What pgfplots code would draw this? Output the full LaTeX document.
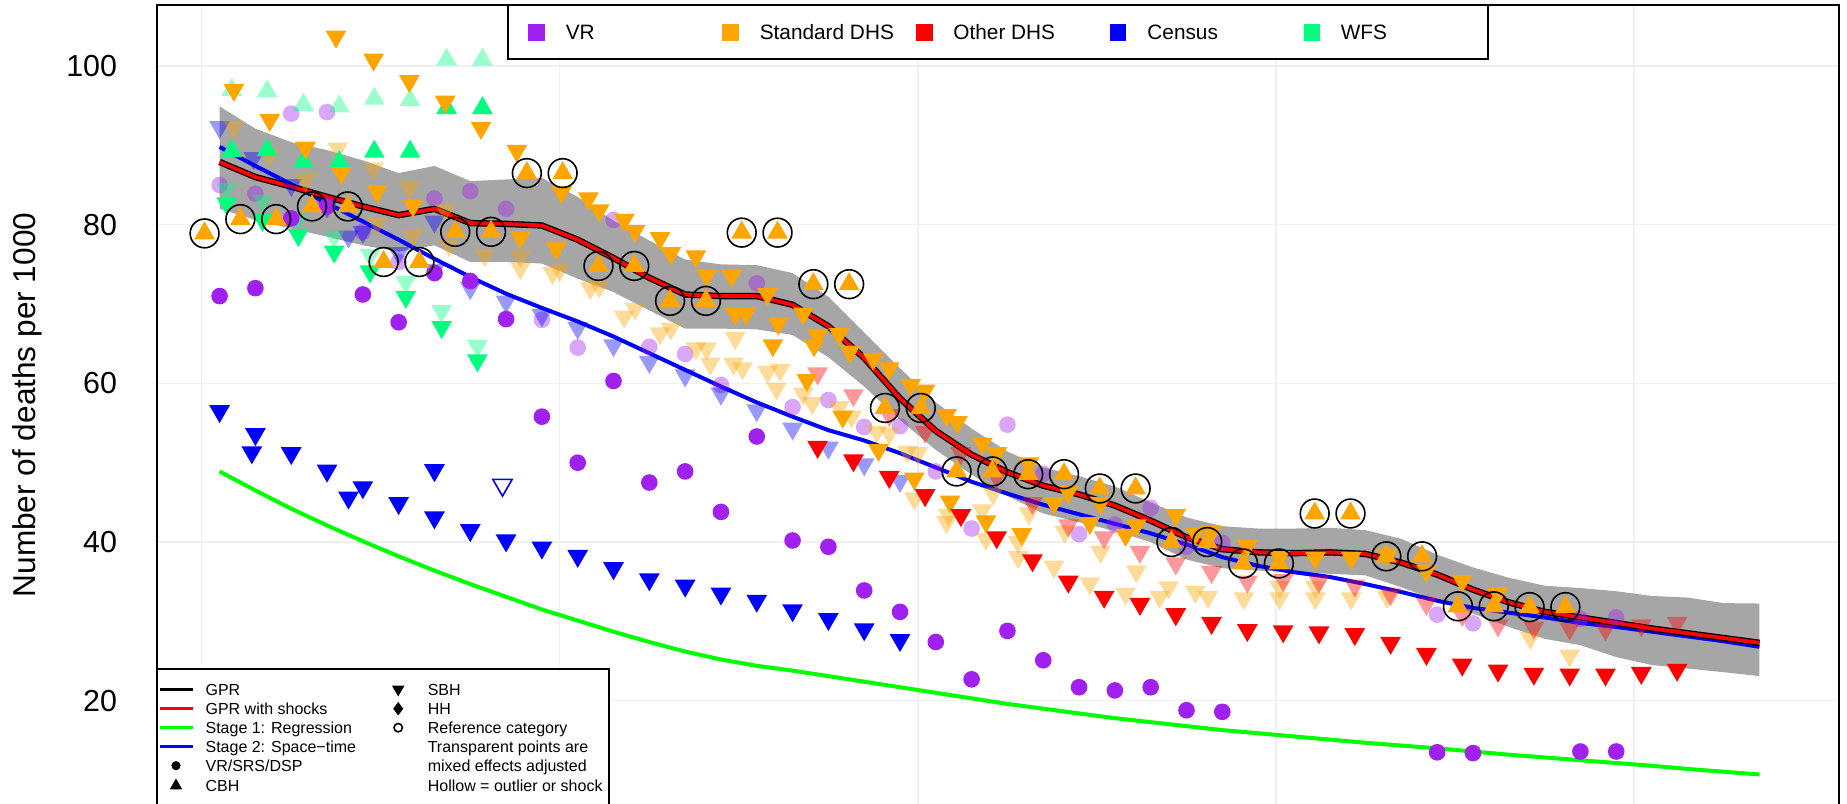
\documentclass[border=0pt]{standalone}
\usepackage{fontspec}
\setmainfont{Liberation Sans}
\usepackage{pgfplots}
\usepackage{pgfplotstable}
\pgfplotsset{compat=1.18}
\definecolor{vrpurple}{HTML}{A020F0}
\definecolor{dhsorange}{HTML}{FFA500}
\definecolor{otherred}{HTML}{FF0000}
\definecolor{censusblue}{HTML}{0000FF}
\definecolor{wfsgreen}{HTML}{00FF7F}
\definecolor{bandgrey}{HTML}{A6A6A6}
\definecolor{stageone}{HTML}{00FF00}

\pgfplotstableread{
year gpr st2 st1
1970.5 87.9 89.8 48.9
1971.5 86.0 87.4 46.5
1972.5 84.8 85.1 44.2
1973.5 83.5 82.7 42.1
1974.5 82.3 80.4 40.1
1975.5 81.2 78.1 38.2
1976.5 82.0 75.7 36.4
1977.5 80.2 73.4 34.7
1978.5 80.1 71.3 33.1
1979.5 79.9 69.5 31.5
1980.5 78.1 67.8 30.1
1981.5 75.8 65.9 28.7
1982.5 73.3 63.8 27.4
1983.5 71.2 61.7 26.2
1984.5 71.0 59.6 25.2
1985.5 71.0 57.6 24.4
1986.5 69.9 55.8 23.8
1987.5 67.2 54.1 23.1
1988.5 63.2 52.8 22.4
1989.5 58.1 51.2 21.7
1990.5 54.0 49.4 21.0
1991.5 51.0 47.6 20.3
1992.5 48.8 46.1 19.6
1993.5 47.1 44.7 19.0
1994.5 46.0 43.5 18.4
1995.5 44.6 42.3 17.8
1996.5 42.7 41.1 17.3
1997.5 40.6 39.7 16.8
1998.5 39.1 38.1 16.3
1999.5 38.7 37.0 15.9
2000.5 38.6 36.2 15.5
2001.5 38.7 35.6 15.1
2002.5 38.5 34.7 14.7
2003.5 37.4 33.7 14.35
2004.5 35.9 32.6 14.0
2005.5 34.0 31.7 13.6
2006.5 32.4 31.1 13.2
2007.5 31.2 30.5 12.85
2008.5 30.5 29.8 12.5
2009.5 29.8 29.3 12.15
2010.5 29.1 28.7 11.8
2011.5 28.5 28.1 11.4
2012.5 27.9 27.5 11.05
2013.5 27.3 26.8 10.7
}\lines

\pgfplotstableread{
x y
1970.08 78.9
1971.08 80.7
1972.08 80.7
1973.08 82.3
1974.08 82.3
1975.08 75.3
1976.08 75.3
1977.08 79.1
1978.08 79.1
1979.08 86.5
1980.08 86.5
1981.08 74.8
1982.08 74.8
1983.08 70.4
1984.08 70.4
1985.08 79.0
1986.08 79.0
1987.08 72.5
1988.08 72.5
1989.08 56.9
1990.08 56.9
1991.08 48.9
1992.08 48.9
1993.08 48.55
1994.08 48.55
1995.08 46.75
1996.08 46.75
1997.08 40.0
1998.08 40.0
1999.08 37.3
2000.08 37.3
2001.08 43.6
2002.08 43.6
2003.08 38.2
2004.08 38.2
2005.08 31.9
2006.08 31.9
2007.08 31.8
2008.08 31.8
}\refpts

\pgfplotsset{
  dn/.style={only marks, mark=triangle*, mark size=3pt,
    mark options={rotate=180, draw opacity=0, fill=#1}},
  dnl/.style={only marks, mark=triangle*, mark size=3pt,
    mark options={rotate=180, draw opacity=0, fill=#1, fill opacity=0.4}},
  up/.style={only marks, mark=triangle*, mark size=3pt,
    mark options={draw opacity=0, fill=#1}},
  upl/.style={only marks, mark=triangle*, mark size=3pt,
    mark options={draw opacity=0, fill=#1, fill opacity=0.4}},
  dot/.style={only marks, mark=*, mark size=2.08pt,
    mark options={draw opacity=0, fill=#1}},
  dotl/.style={only marks, mark=*, mark size=2.08pt,
    mark options={draw opacity=0, fill=#1, fill opacity=0.4}},
}

\begin{document}
\begin{tikzpicture}
\useasboundingbox (-39.35pt,0.5pt) rectangle (422.4pt,201.25pt);
\clip (-39.35pt,0.5pt) rectangle (422.4pt,201.25pt);
\begin{axis}[
  at={(0pt,0pt)}, anchor=south west,
  width=420.4pt, height=200pt, scale only axis,
  xmin=1968.763, xmax=2015.722, ymin=6.857, ymax=107.688,
  xtick={1970,1980,1990,2000,2010}, xticklabels={},
  ytick={20,40,60,80,100},
  major tick length=0pt,
  grid=major, grid style={line width=0.33pt, draw=black!6},
  axis line style={line width=0.45pt},
  /pgf/number format/assume math mode=true,
  yticklabel style={font=\fontsize{7.6}{8}\selectfont, inner sep=0pt, xshift=-9.9pt},
  ylabel={Number of deaths per 1000},
  ylabel style={font=\fontsize{7.9}{9}\selectfont, at={(axis description cs:-0.0774,0.5)}, anchor=center, inner sep=0pt},
]
% uncertainty band
\addplot[fill=bandgrey, draw=none] coordinates {
(1970.5,94.9)(1971.5,92.1)(1972.5,90.4)(1973.5,89.4)(1974.5,88.1)(1975.5,86.5)(1976.5,87.4)(1977.5,85.5)(1978.5,85.7)(1979.5,85.9)(1980.5,83.5)(1981.5,80.5)(1982.5,78.0)(1983.5,75.6)(1984.5,75.0)(1985.5,74.9)(1986.5,73.9)(1987.5,70.9)(1988.5,66.4)(1989.5,61.9)(1990.5,57.6)(1991.5,54.3)(1992.5,51.4)(1993.5,49.4)(1994.5,48.3)(1995.5,47.0)(1996.5,45.0)(1997.5,43.1)(1998.5,42.0)(1999.5,41.7)(2000.5,41.7)(2001.5,41.8)(2002.5,41.5)(2003.5,40.4)(2004.5,38.4)(2005.5,36.8)(2006.5,35.5)(2007.5,34.5)(2008.5,34.2)(2009.5,33.8)(2010.5,33.2)(2011.5,33.0)(2012.5,32.3)(2013.5,32.25)
(2013.5,23.1)(2012.5,23.6)(2011.5,24.05)(2010.5,24.5)(2009.5,25.5)(2008.5,27.0)(2007.5,27.8)(2006.5,29.3)(2005.5,31.0)(2004.5,32.65)(2003.5,34.3)(2002.5,35.8)(2001.5,36.0)(2000.5,36.2)(1999.5,36.4)(1998.5,36.7)(1997.5,37.8)(1996.5,40.0)(1995.5,41.4)(1994.5,42.5)(1993.5,43.6)(1992.5,45.8)(1991.5,48.5)(1990.5,51.6)(1989.5,55.4)(1988.5,59.6)(1987.5,63.3)(1986.5,66.1)(1985.5,66.8)(1984.5,66.9)(1983.5,66.9)(1982.5,69.2)(1981.5,71.5)(1980.5,73.2)(1979.5,75.1)(1978.5,75.3)(1977.5,75.3)(1976.5,77.4)(1975.5,76.6)(1974.5,77.4)(1973.5,78.5)(1972.5,79.5)(1971.5,80.6)(1970.5,82.0)} -- cycle;

% transparent (mixed effects adjusted) points
\addplot[dotl=vrpurple] coordinates {
(1970.5,85.0)(1971.5,83.9)(1972.5,94.0)(1973.5,94.2)(1974.5,79.1)(1975.5,75.3)(1976.5,83.3)(1977.5,84.2)(1978.5,82.0)(1979.5,68.0)(1980.5,64.5)(1981.5,80.6)(1982.5,64.6)(1983.5,63.7)(1984.5,59.8)(1985.5,72.6)(1986.5,57.0)(1987.5,57.9)(1988.5,54.5)(1989.5,54.6)(1990.5,48.9)(1991.5,41.7)(1992.5,54.8)(1993.5,48.6)(1994.5,41.0)(1995.5,42.2)(1996.5,44.3)(1997.5,39.4)(1998.5,39.9)(2004.5,30.85)(2005.5,29.75)(2008.5,30.35)(2009.5,30.5)};
\addplot[dnl=censusblue] coordinates {
(1970.5,92.3)(1971.45,88.4)(1972.5,85.0)(1973.5,82.3)(1974.1,78.5)(1974.5,79.1)(1975.5,76.4)(1976.5,80.4)(1976.5,74.3)(1977.5,72.0)(1978.5,70.3)(1979.5,68.6)(1980.5,67.0)(1981.5,64.8)(1982.5,62.7)(1983.5,61.0)(1984.5,58.7)(1985.5,56.6)(1986.5,54.3)(1987.5,51.9)(1988.5,49.8)(1989.5,47.7)};
\addplot[upl=wfsgreen] coordinates {
(1970.84,97.0)(1971.83,96.8)(1972.84,95.1)(1973.84,94.9)(1974.82,95.9)(1975.82,95.7)(1976.84,100.8)(1977.84,100.8)};
\addplot[dnl=wfsgreen] coordinates {
(1970.7,84.5)(1971.7,83.0)(1972.7,80.8)(1973.7,78.5)(1974.7,76.2)(1975.7,72.8)(1976.7,69.1)(1977.7,64.7)};
\addplot[dnl=dhsorange] coordinates {
(1970.9,92.3)(1971.9,88.8)(1972.9,85.6)(1973.8,89.6)(1974.8,87.1)(1975.8,84.6)(1974.9,80.2)(1975.9,78.7)(1976.8,81.8)(1976.9,77.4)(1977.9,76.2)(1978.9,76.0)(1978.9,74.5)(1979.8,73.9)(1980.0,74.3)(1980.85,72.0)(1981.1,72.2)(1981.8,68.4)(1982.1,69.4)(1982.8,66.3)(1983.1,66.9)(1983.8,64.4)(1984.1,64.4)(1984.2,62.5)(1984.85,62.5)(1984.9,65.7)(1985.1,61.9)(1985.8,61.45)(1986.15,61.7)(1986.05,59.35)(1986.8,58.7)(1987.05,57.5)(1987.8,57.0)(1988.15,55.8)(1988.85,53.9)(1989.2,53.7)(1989.7,51.4)(1990.0,51.2)(1989.9,45.5)(1990.85,43.4)(1990.8,42.5)(1991.8,44.0)(1991.9,40.4)(1992.1,46.1)(1992.8,40.0)(1992.8,38.1)(1993.1,43.6)(1993.8,36.9)(1994.1,41.3)(1994.8,34.8)(1995.1,38.75)(1995.8,33.5)(1996.1,36.3)(1996.75,33.1)(1997.0,34.3)(1997.75,33.7)(1998.1,33.1)(1999.1,32.9)(2000.1,32.9)(2001.1,32.9)(2002.1,32.9)(2003.1,33.1)(2000.1,34.35)(2001.1,34.35)(2007.1,27.9)(2008.2,25.7)};
\addplot[dnl=otherred] coordinates {
(1987.2,61.25)(1988.2,58.5)(1989.2,56.0)(1990.2,53.9)(1991.2,51.2)(1992.2,48.2)(1993.2,44.9)(1994.2,42.1)(1995.2,40.6)(1996.2,38.75)(1997.2,37.3)(1998.2,36.2)(1999.2,35.0)(2000.2,35.2)(2001.2,35.0)(2002.2,34.5)(2003.2,33.4)(2004.2,32.2)(2005.2,30.8)(2006.2,29.5)(2007.2,29.2)(2008.2,29.1)(2009.2,29.0)(2010.2,29.5)(2011.2,29.8)};

% model lines
\addplot[stageone, line width=1.0pt] table[x=year, y=st1] {\lines};
\addplot[censusblue, line width=1.0pt] table[x=year, y=st2] {\lines};
\addplot[black, line width=1.6pt] table[x=year, y=gpr] {\lines};
\addplot[otherred, line width=0.95pt] table[x=year, y=gpr] {\lines};

% solid points
\addplot[dot=vrpurple] coordinates {
(1970.5,71.0)(1971.5,72.0)(1972.5,80.8)(1973.5,82.3)(1974.5,71.2)(1975.5,67.7)(1976.5,73.9)(1977.5,72.9)(1978.5,68.1)(1979.5,55.8)(1980.5,50.0)(1981.5,60.3)(1982.5,47.5)(1983.5,48.9)(1984.5,43.8)(1985.5,53.3)(1986.5,40.2)(1987.5,39.4)(1988.5,33.9)(1989.5,31.2)(1990.5,27.4)(1991.5,22.7)(1992.5,28.8)(1993.5,25.1)(1994.5,21.7)(1995.5,21.3)(1996.5,21.7)(1997.5,18.8)(1998.5,18.6)(2004.5,13.5)(2005.5,13.4)(2008.5,13.6)(2009.5,13.6)};
\addplot[dn=censusblue] coordinates {
(1970.5,56.5)(1971.5,53.6)(1971.4,51.3)(1972.5,51.2)(1973.5,49.0)(1974.5,46.9)(1974.1,45.6)(1975.5,44.9)(1976.5,49.05)(1976.5,43.1)(1977.5,41.5)(1978.5,40.2)(1979.5,39.3)(1980.5,38.25)(1981.5,36.7)(1982.5,35.3)(1983.5,34.5)(1984.5,33.5)(1985.5,32.6)(1986.5,31.4)(1987.5,30.3)(1988.5,29.0)(1989.5,27.65)};
\addplot[only marks, mark=triangle, mark size=2.8pt, mark options={rotate=180, draw=censusblue, fill=white, line width=0.4pt}] coordinates {(1978.4,47.2)};
\addplot[up=wfsgreen] coordinates {
(1970.84,89.3)(1971.83,89.4)(1972.84,87.9)(1973.84,87.9)(1974.82,89.2)(1975.82,89.2)(1976.84,94.7)(1977.84,94.7)};
\addplot[dn=wfsgreen] coordinates {
(1970.7,82.7)(1971.7,80.6)(1972.7,78.7)(1973.7,76.6)(1974.7,74.1)(1975.7,70.9)(1976.7,67.1)(1977.7,62.9)};
\addplot[dn=dhsorange] coordinates {
(1970.9,97.0)(1971.9,93.2)(1972.9,89.7)(1973.9,86.5)(1974.9,84.2)(1975.9,82.4)
(1973.75,103.7)(1974.8,100.8)(1975.8,98.1)(1976.8,95.5)(1977.8,92.2)(1978.8,89.3)
(1978.9,78.4)(1979.9,77.0)(1980.05,84.1)
(1980.8,83.3)(1981.1,81.8)(1981.8,80.6)(1982.1,79.2)(1982.8,78.3)(1983.1,76.4)(1983.8,76.0)(1984.1,73.6)(1984.8,73.6)(1985.8,71.25)(1986.8,68.8)(1987.8,66.2)(1988.75,63.1)(1989.8,59.8)(1990.8,56.0)(1991.8,52.4)
(1984.9,68.8)(1985.2,68.8)(1986.1,67.55)(1987.2,66.1)(1988.1,64.0)(1989.2,61.9)(1990.2,59.1)(1991.1,55.1)(1992.2,51.2)(1993.1,49.9)(1994.2,46.3)(1995.1,44.9)(1996.1,42.1)(1997.2,43.4)(1998.2,41.3)(1999.2,39.5)(2000.1,38.1)(2001.1,38.0)(2002.1,38.0)(2003.1,38.4)(2004.2,36.4)(2005.2,35.1)(2006.2,33.5)
(1985.95,64.8)(1987.1,64.8)(1986.9,60.4)(1987.9,55.8)(1988.9,51.6)(1989.9,48.0)(1990.9,45.1)(1991.9,42.6)(1992.9,41.0)(1993.8,44.9)(1994.8,42.4)(1995.8,40.9)(1997.75,41.1)};
\addplot[dn=otherred] coordinates {
(1987.2,52.0)(1988.2,50.3)(1989.2,48.2)(1990.2,45.9)(1991.2,43.4)(1992.2,40.6)(1993.2,37.7)(1994.2,35.0)(1995.2,33.1)(1996.2,32.2)(1997.2,30.9)(1998.2,29.8)(1999.2,28.9)(2000.2,28.75)(2001.2,28.6)(2002.2,28.4)(2003.2,27.3)(2004.2,25.9)(2005.2,24.55)(2006.2,23.8)(2007.2,23.4)(2008.2,23.3)(2009.2,23.3)(2010.2,23.5)(2011.2,23.9)};
\addplot[up=dhsorange] table[x=x, y=y] {\refpts};
\addplot[only marks, mark=o, mark size=3.6pt, mark options={draw=black, line width=0.4pt}] table[x=x, y=y] {\refpts};
\end{axis}

% top legend
\draw[line width=0.45pt, fill=white] (87.65pt,186.43pt) rectangle (332.65pt,200pt);
\fill[vrpurple]   (92.75pt,191.05pt) rectangle ++(4.2pt,4.2pt);
\fill[dhsorange]  (141.18pt,191.05pt) rectangle ++(4.2pt,4.2pt);
\fill[otherred]   (189.6pt,191.05pt) rectangle ++(4.2pt,4.2pt);
\fill[censusblue] (238.05pt,191.05pt) rectangle ++(4.2pt,4.2pt);
\fill[wfsgreen]   (286.55pt,191.05pt) rectangle ++(4.2pt,4.2pt);
\begin{scope}[every node/.style={anchor=base west, inner sep=0pt, font=\fontsize{5.2}{6}\selectfont}]
\node at (101.9pt,191.29pt) {VR};
\node at (150.4pt,191.29pt) {Standard DHS};
\node at (198.8pt,191.29pt) {Other DHS};
\node at (247.3pt,191.29pt) {Census};
\node at (295.65pt,191.29pt) {WFS};
\end{scope}

% bottom legend
\draw[line width=0.45pt, fill=white] (0pt,33.925pt) rectangle (112.9pt,-3pt);
\draw[black, line width=0.8pt] (0.65pt,28.93pt) -- (8.8pt,28.93pt);
\draw[otherred, line width=0.8pt] (0.65pt,24.08pt) -- (8.8pt,24.08pt);
\draw[stageone, line width=0.8pt] (0.65pt,19.33pt) -- (8.8pt,19.33pt);
\draw[censusblue, line width=0.8pt] (0.65pt,14.58pt) -- (8.8pt,14.58pt);
\fill[black] (4.65pt,9.83pt) circle (1.15pt);
\fill[black] (3.09pt,3.93pt) -- (6.21pt,3.93pt) -- (4.65pt,6.63pt) -- cycle;
\fill[black] (58.64pt,29.83pt) -- (61.76pt,29.83pt) -- (60.2pt,27.13pt) -- cycle;
\fill[black] (60.2pt,25.78pt) -- (61.45pt,24.08pt) -- (60.2pt,22.38pt) -- (58.95pt,24.08pt) -- cycle;
\draw[black, line width=0.4pt] (60.2pt,19.33pt) circle (1.05pt);
\begin{scope}[every node/.style={anchor=base west, inner sep=0pt, font=\fontsize{4}{5}\selectfont}]
\node at (11.85pt,27.5pt) {GPR};
\node at (11.85pt,22.65pt) {GPR with shocks};
\node at (11.85pt,17.9pt) {Stage 1: Regression};
\node at (11.85pt,13.15pt) {Stage 2: Space−time};
\node at (11.85pt,8.4pt) {VR/SRS/DSP};
\node at (11.85pt,3.4pt) {CBH};
\node at (67.4pt,27.5pt) {SBH};
\node at (67.4pt,22.65pt) {HH};
\node at (67.4pt,17.9pt) {Reference category};
\node at (67.4pt,13.15pt) {Transparent points are};
\node at (67.4pt,8.4pt) {mixed effects adjusted};
\node at (67.4pt,3.4pt) {Hollow = outlier or shock};
\end{scope}
\end{tikzpicture}
\end{document}
